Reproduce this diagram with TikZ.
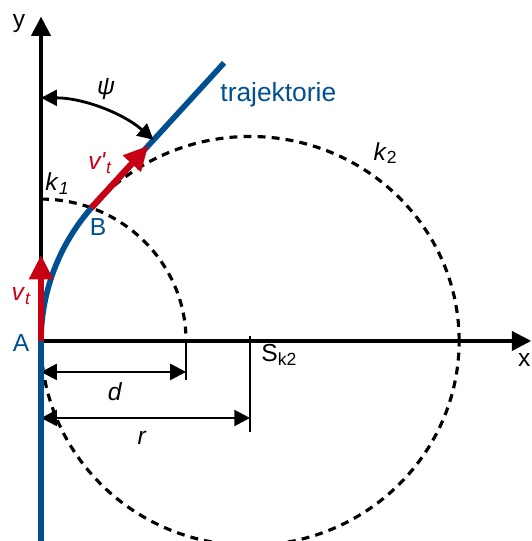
\documentclass[tikz,border=0pt]{standalone}
\usepackage{fontspec}
\setmainfont{Liberation Sans}
\usepackage{xcolor}
\usetikzlibrary{arrows.meta,calc}
\definecolor{trajblue}{RGB}{0,80,145}
\definecolor{velred}{RGB}{200,0,20}
\newcommand{\idx}[1]{\raisebox{-0.3ex}{\fontsize{10}{10}\selectfont #1}}

\begin{document}
\begin{tikzpicture}[yscale=0.978, >={Triangle[length=9pt,width=9pt]},
    axis/.style={line width=1.8pt, -{Triangle[length=11pt,width=11pt]}},
    circ/.style={line width=1.8pt, dash pattern=on 4.5pt off 3.5pt},
    dim/.style={line width=1.6pt, <->},
    traj/.style={line width=3.2pt, trajblue},
    vel/.style={line width=3.6pt, velred, -{Triangle[length=14pt,width=13pt]}},
    lbl/.style={font=\fontsize{14}{16}\selectfont}]
    \useasboundingbox (-0.82,-4.09) rectangle (9.8,6.97);

    \coordinate (A) at (0,0);
    \coordinate (S) at (4.18,0);
    \coordinate (B) at (1.006,2.72);
    \coordinate (E) at (3.66,5.685);
    \coordinate (C) at (0,1.596);

    % Axes
    \draw [axis] (A) -- (0,6.63);
    \draw [axis] (A) -- (9.8,0);
    \node [lbl] (ylab) at (-0.44,6.48) {y};
    \node [lbl] (xlab) at (9.66,-0.39) {x};

    % Circles k1 and k2
    \draw [circ] (0,2.9) arc (90:3:2.9);
    \draw [circ] (S) circle (4.18);
    \node [lbl] (k1) at (0.32,3.21) {\textit{k}\idx{\textit{1}}};
    \node [lbl] (k2) at (6.88,3.84) {\textit{k}\idx{2}};

    % Dimensions d and r
    \draw [line width=1.6pt] (2.9,0) -- (2.9,-0.8);
    \draw [line width=1.6pt] (4.18,0.1) -- (4.18,-1.86);
    \draw [dim] (0,-0.634) -- (2.9,-0.634);
    \draw [dim] (0,-1.575) -- (4.18,-1.575);
    \node [lbl] (dlab) at (1.48,-1.04) {\textit{d}};
    \node [lbl] (rlab) at (2.02,-1.98) {\textit{r}};
    \node [lbl, anchor=west, inner sep=0pt] (Slab) at (4.4,-0.29) {S\idx{k2}};

    % Trajectory
    \draw [traj] (0,-4.2) -- (A) arc (180:139.4:4.18) -- (E);
    \node [font=\fontsize{15}{18}\selectfont, trajblue, anchor=base west, inner sep=0pt] (trlab) at (3.58,4.89) {trajektorie};
    \node [lbl, trajblue] (Alab) at (-0.4,-0.04) {A};
    \node [lbl, trajblue] (Blab) at (1.14,2.33) {B};

    % Velocities
    \draw [vel] (A) -- (0,1.76);
    \draw [vel] (B) -- ($(B)!0.43!(E)$);
    \node [lbl, velred] (vt) at (-0.4,0.92) {\textit{v}\idx{\textit{t}}};
    \node [lbl, velred] (vtp) at (1.18,3.64) {\textit{v\textquotesingle}\idx{\textit{t}}};

    % Angle psi
    \draw [line width=1.6pt, <->] (0,4.97) arc (90:48.2:3.374);
    \node [lbl] (psi) at (1.3,5.15) {\textit{ψ}};
\end{tikzpicture}
\end{document}
